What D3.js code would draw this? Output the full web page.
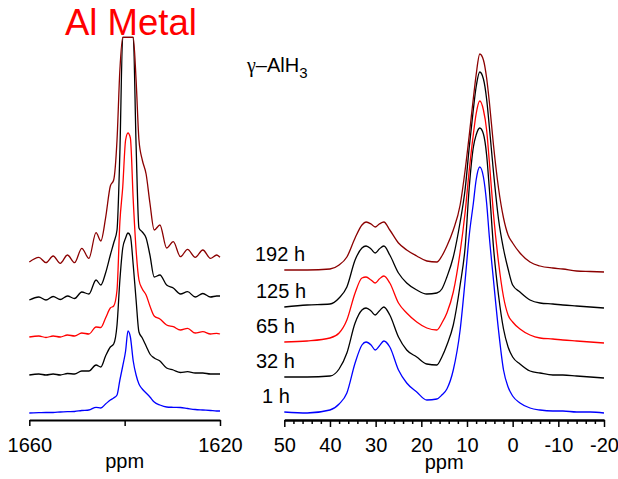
<!DOCTYPE html>
<html><head><meta charset="utf-8">
<script src="https://cdn.jsdelivr.net/npm/d3@7/dist/d3.min.js"></script>
<style>
body{margin:0;background:#fff;}
svg text{font-family:"Liberation Sans",Arial,Helvetica,sans-serif;}
</style>
</head><body>
<svg id="c" width="618" height="479"></svg>
<script>
// ---------- data ----------
const seriesNames = ["1 h", "32 h", "65 h", "125 h", "192 h"];
const seriesColors = ["#0000ff", "#000000", "#ff0000", "#000000", "#8b0000"];

// Al metal region (ppm)
const ppmLeft = [1660, 1658, 1656.5, 1655, 1653.5, 1652, 1650.5, 1649, 1647.5, 1646, 1645, 1644, 1643, 1642.3, 1641.6, 1641, 1640.4, 1639.8, 1639.3, 1638.8, 1638.2, 1637.6, 1637, 1636.3, 1635.5, 1634.7, 1633.8, 1632.6, 1631.2, 1629.8, 1628.3, 1626.8, 1625.2, 1623.6, 1622, 1620.7, 1620];
const al1h   = [0, 0.3, 0.5, 0.5, 1, 1.3, 1.5, 2.5, 3, 5.7, 5, 9, 13, 15, 18, 33, 47, 62, 82, 76, 52, 38, 29, 24, 20, 16, 11, 8, 6, 5.7, 5.5, 4.5, 3.5, 3, 2.5, 2, 2];
const al32h  = [0, 1, 0, 1, 0, 1.5, 1, 4, 4, 10, 8, 19, 28, 31, 50, 95, 127, 137, 142, 139, 110, 75, 43, 37, 29, 21, 17, 14, 7, 5, 2.5, 3.3, 2, 2, 1, 1, 1];
const al65h  = [0, 1, -0.5, 1, 0, 2, 1, 4, 3, 10, 9.5, 19, 29, 31, 47, 115, 150, 197, 204, 199, 137, 87, 57, 48, 42, 31, 21, 18, 12, 10.3, 7, 8.7, 4, 5.3, 3, 3.7, 3];
const al125h = [-1, 2, -1, 2.5, -0.5, 3, 0.5, 7, 5, 19, 14, 26, 44, 56, 69, 147, 300, 300, 300, 300, 300, 154, 71, 67, 61, 44, 22, 24, 14, 11, 5, 7.3, 2, 5.5, 2, 3, 3];
const al192h = [-2, 2.7, -2.7, 4, -3.3, 5, -2.7, 11.7, 1.7, 27.3, 19, 42, 74, 80, 120, 190, 400, 400, 400, 400, 400, 180, 120, 100, 86, 57, 30, 35, 12, 18.3, 3.3, 10.7, 2.7, 10, 1.7, 5, 2.7];
const alOffsets = [0, 38, 76, 114, 153];

// gamma-AlH3 region (ppm)
const ppmRight = [50, 45, 40, 38, 36.3, 34.5, 33, 32.1, 31, 30.1, 29.2, 28.2, 26.9, 25, 23.2, 21, 18.8, 16.6, 15.5, 14.4, 13, 11.5, 10.4, 9.5, 8.6, 8, 7.2, 6.4, 5.7, 5.1, 4.2, 3.1, 2, 1, 0, -1.6, -3.8, -6, -8.8, -11, -14, -17, -20];
const g1h   = [0, -1, 2, 8, 19, 49, 67, 70, 67, 62, 66, 71, 65, 42, 29, 20, 12, 13, 17, 23, 42, 82, 132, 177, 209, 232, 245, 235, 209, 175, 132, 82, 42, 25, 16, 9, 4, 2, 1, 1, 0, 0, -1];
const g32h  = [0, 0, 1, 8, 24, 54, 67, 69, 66, 62, 66, 70, 62, 40, 27, 20, 13, 12, 20, 32, 52, 92, 130, 190, 230, 242, 249, 243, 222, 188, 130, 82, 48, 30, 20, 13, 6, 4, 2, 2, 1, 0, -1];
const g65h  = [0, 1, 4, 9, 22, 49, 64, 65, 62, 59, 63, 66, 59, 39, 29, 20, 14, 12, 19, 29, 50, 90, 130, 172, 208, 228, 241, 232, 212, 180, 128, 80, 45, 27, 20, 13, 7, 4, 3, 2, 1, 0, -1];
const g125h = [0, 2, 3, 9, 20, 47, 59, 61, 58, 54, 58, 61, 52, 34, 24, 17, 13, 14, 18, 30, 50, 85, 118, 160, 198, 220, 235, 228, 208, 180, 135, 88, 58, 38, 22, 15, 7, 4, 3, 2, 1, 0, -1];
const g192h = [0, 0, 1, 5, 13, 32, 45, 48, 46, 43, 46, 48, 40, 27, 20, 14, 9, 8, 14, 24, 40, 65, 100, 135, 172, 195, 216, 210, 192, 168, 125, 82, 52, 35, 27, 17, 8, 4, 2, 1, -1, -1.5, -2];
const gOffsets = [0, 35, 70, 105, 142];

const leftTicks = [1660, 1640, 1620];
const leftTickLabels = ["1660", "", "1620"];
const rightTicks = [50, 40, 30, 20, 10, 0, -10, -20];
const rightTickLabels = ["50", "40", "30", "20", "10", "0", "-10", "-20"];
const rightMinorTicks = [48,46,44,42,38,36,34,32,28,26,24,22,18,16,14,12,8,6,4,2,-2,-4,-6,-8,-12,-14,-16,-18];
const axisTitle = "ppm";
const titleLeft = "Al Metal";

// ---------- drawing ----------
const svg = d3.select("#c");
const FONT = '"Liberation Sans",Arial,Helvetica,sans-serif';

const xL = d3.scaleLinear().domain([1660, 1620]).range([29.3, 220]);
const yL = d3.scaleLinear().domain([0, 375.7]).range([413, 37.3]).clamp(true);
const xR = d3.scaleLinear().domain([50, -20]).range([284.3, 604]);
const yR = d3.scaleLinear().domain([0, 375]).range([412, 37]);

function drawPanel(ppm, series, offsets, x, y) {
  series.forEach((vals, i) => {
    const line = d3.line()
      .x((d, j) => x(ppm[j]))
      .y(d => y(d + offsets[i]))
      .curve(d3.curveMonotoneX);
    svg.append("path").datum(vals)
      .attr("d", line)
      .attr("fill", "none")
      .attr("stroke", seriesColors[i])
      .attr("stroke-width", 1.3)
      .attr("stroke-linejoin", "round");
  });
}
drawPanel(ppmLeft, [al1h, al32h, al65h, al125h, al192h], alOffsets, xL, yL);
drawPanel(ppmRight, [g1h, g32h, g65h, g125h, g192h], gOffsets, xR, yR);

function styleAxis(g) {
  g.attr("font-family", FONT).attr("font-size", 20);
  g.select(".domain").attr("stroke", "#000").attr("stroke-width", 2);
  g.selectAll(".tick line").attr("stroke", "#000").attr("stroke-width", 1.5);
  g.selectAll(".tick text").attr("fill", "#000");
}

const axisY = 420;
svg.append("g").attr("transform", `translate(0,${axisY})`)
  .call(d3.axisBottom(xL).tickValues(leftTicks)
    .tickFormat((d, i) => leftTickLabels[i])
    .tickSizeInner(6).tickSizeOuter(0).tickPadding(12))
  .call(styleAxis);

svg.append("g").attr("transform", `translate(0,${axisY})`)
  .call(d3.axisBottom(xR).tickValues(rightMinorTicks)
    .tickFormat(() => "").tickSizeInner(4).tickSizeOuter(0))
  .call(styleAxis);
svg.append("g").attr("transform", `translate(0,${axisY})`)
  .call(d3.axisBottom(xR).tickValues(rightTicks)
    .tickFormat((d, i) => rightTickLabels[i])
    .tickSizeInner(7).tickSizeOuter(0).tickPadding(11))
  .call(styleAxis);

// axis titles
svg.append("text").attr("x", (xL.range()[0] + xL.range()[1]) / 2).attr("y", 468)
  .attr("text-anchor", "middle").attr("font-size", 20).text(axisTitle);
svg.append("text").attr("x", (xR.range()[0] + xR.range()[1]) / 2).attr("y", 469)
  .attr("text-anchor", "middle").attr("font-size", 20).text(axisTitle);

// panel titles
svg.append("text").attr("x", 65).attr("y", 35)
  .attr("font-size", 36.5).attr("fill", "#ff0000").text(titleLeft);
const gt = svg.append("text").attr("x", 247).attr("y", 72).attr("font-size", 20);
gt.append("tspan").attr("font-family", '"Liberation Serif","Times New Roman",serif').text("\u03b3");
gt.append("tspan").text("\u2013AlH");
gt.append("tspan").attr("dy", 6).attr("font-size", 15).text("3");

// time labels (right panel), placed next to each trace baseline
const labelX = [262, 256, 256, 256, 255];
seriesNames.forEach((name, i) => {
  svg.append("text")
    .attr("x", labelX[i])
    .attr("y", yR(gOffsets[i]) - 9.5)
    .attr("font-size", 20)
    .text(name);
});
</script>
</body></html>
